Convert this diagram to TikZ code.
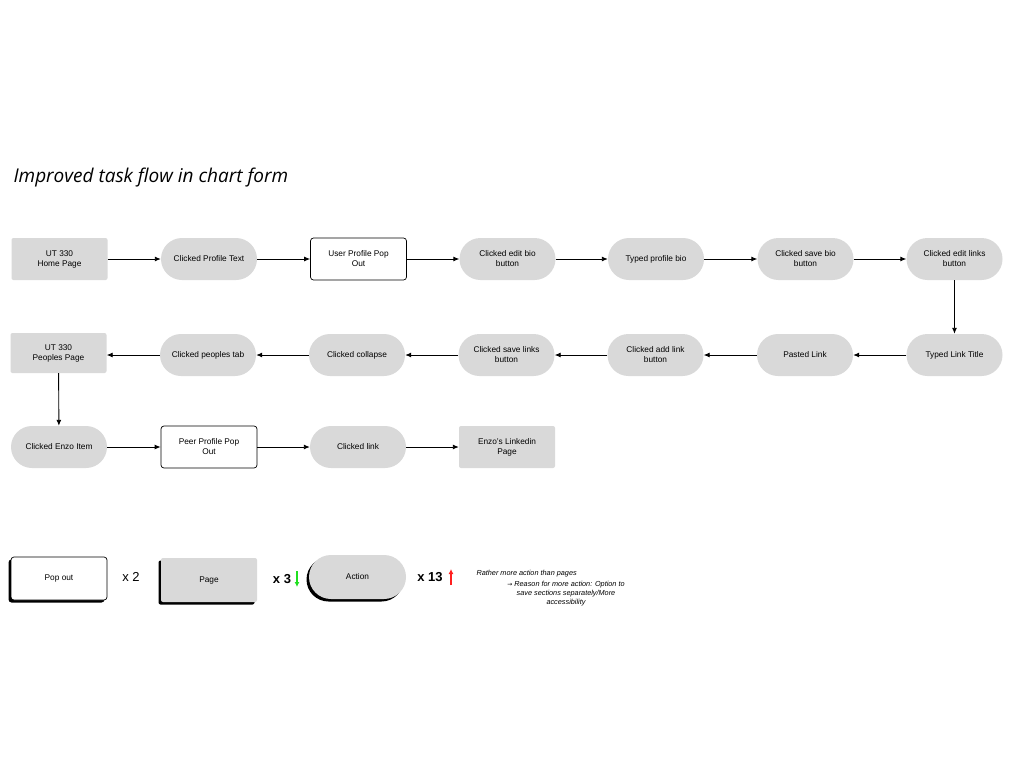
\documentclass[tikz,border=0pt]{standalone}
\usepackage{fontspec}
\setmainfont{Liberation Sans}
\newfontfamily\titlefont{Open Sans}
\newfontfamily\symfont{DejaVu Sans}
\usetikzlibrary{arrows.meta,positioning}
\definecolor{boxgray}{HTML}{D9D9D9}
\definecolor{upred}{HTML}{FF2020}
\definecolor{downgreen}{HTML}{20E020}
\tikzset{
  base/.style={minimum width=96pt, minimum height=42pt, inner sep=2pt, align=center, font=\fontsize{8.3}{10}\selectfont},
  pagebox/.style={base, fill=boxgray, rounded corners=2pt},
  popbox/.style={base, fill=white, draw=black, line width=0.7pt, rounded corners=3pt},
  actbox/.style={base, fill=boxgray, rounded corners=21pt},
  flow/.style={-{Latex[length=6pt,width=5pt]}, line width=0.9pt},
  shadowed/.style={preaction={fill=black, transform canvas={xshift=-2.5pt, yshift=-2.5pt}}},
  legarrow/.style={-{Latex[length=5pt,width=5pt]}, line width=1.3pt},
}
\begin{document}
\begin{tikzpicture}[x=1pt,y=-1pt]
\useasboundingbox[fill=white] (0,0) rectangle (1024,768);
\node[anchor=base west, font=\titlefont\itshape\fontsize{19}{22}\selectfont] (title) at (10,182) {Improved task flow in chart form};
% row 1
\node[pagebox] (a1) at (59.5,259) {UT 330\\Home Page};
\node[actbox] (a2) at (209,259) {Clicked Profile Text};
\node[popbox] (a3) at (358.5,259) {User Profile Pop\\Out};
\node[actbox] (a4) at (507.5,259) {Clicked edit bio\\button};
\node[actbox] (a5) at (656,259) {Typed profile bio};
\node[actbox] (a6) at (805.5,259) {Clicked save bio\\button};
\node[actbox] (a7) at (954.5,259) {Clicked edit links\\button};
% row 2
\node[actbox] (b1) at (954.5,355) {Typed Link Title};
\node[actbox] (b2) at (805,355) {Pasted Link};
\node[actbox] (b3) at (655.5,355) {Clicked add link\\button};
\node[actbox] (b4) at (506.5,355) {Clicked save links\\button};
\node[actbox] (b5) at (357,355) {Clicked collapse};
\node[actbox] (b6) at (208,355) {Clicked peoples tab};
\node[pagebox, minimum height=40pt] (b7) at (58.5,353) {UT 330\\Peoples Page};
% row 3
\node[actbox] (c1) at (59,447) {Clicked Enzo Item};
\node[popbox] (c2) at (209,447) {Peer Profile Pop\\Out};
\node[actbox] (c3) at (358,447) {Clicked link};
\node[pagebox] (c4) at (507,447) {Enzo's Linkedin\\Page};
% arrows
\draw[flow] (a1) -- (a2);
\draw[flow] (a2) -- (a3);
\draw[flow] (a3) -- (a4);
\draw[flow] (a4) -- (a5);
\draw[flow] (a5) -- (a6);
\draw[flow] (a6) -- (a7);
\draw[flow] (a7) -- (b1);
\draw[flow] (b1) -- (b2);
\draw[flow] (b2) -- (b3);
\draw[flow] (b3) -- (b4);
\draw[flow] (b4) -- (b5);
\draw[flow] (b5) -- (b6);
\draw[flow] (b6.west) -- (b7.east |- b6.west);
\draw[flow] (b7) -- (c1);
\draw[flow] (c1) -- (c2);
\draw[flow] (c2) -- (c3);
\draw[flow] (c3) -- (c4);
% legend
\node[popbox, shadowed, minimum width=96pt, minimum height=43pt] (l1) at (59,578.5) {Pop out};
\node[font=\fontsize{13}{15}\selectfont] (n1) at (131,577) {x 2};
\node[pagebox, shadowed, minimum width=96pt, minimum height=44pt] (l2) at (209,580) {Page};
\node[font=\bfseries\fontsize{13}{15}\selectfont] (n2) at (282,579) {x 3};
\coordinate (g1) at (297,571);
\coordinate (g2) at (297,587);
\draw[legarrow, downgreen] (g1) -- (g2);
\node[actbox, shadowed, minimum width=97pt, minimum height=44pt, rounded corners=22pt] (l3) at (357.5,577) {Action};
\node[font=\bfseries\fontsize{13}{15}\selectfont] (n3) at (430,577) {x 13};
\coordinate (r1) at (451,585);
\coordinate (r2) at (451,569);
\draw[legarrow, upred] (r1) -- (r2);
\node[anchor=base west, font=\itshape\fontsize{7.3}{8.5}\selectfont] (t1) at (473,575) {Rather more action than pages};
\node[anchor=north, align=center, font=\itshape\fontsize{7.3}{9.3}\selectfont] (t2) at (566,577.5) {{\symfont\upshape\fontsize{6}{9}\selectfont →} Reason for more action: Option to\\save sections separately/More\\accessibility};
\end{tikzpicture}
\end{document}
